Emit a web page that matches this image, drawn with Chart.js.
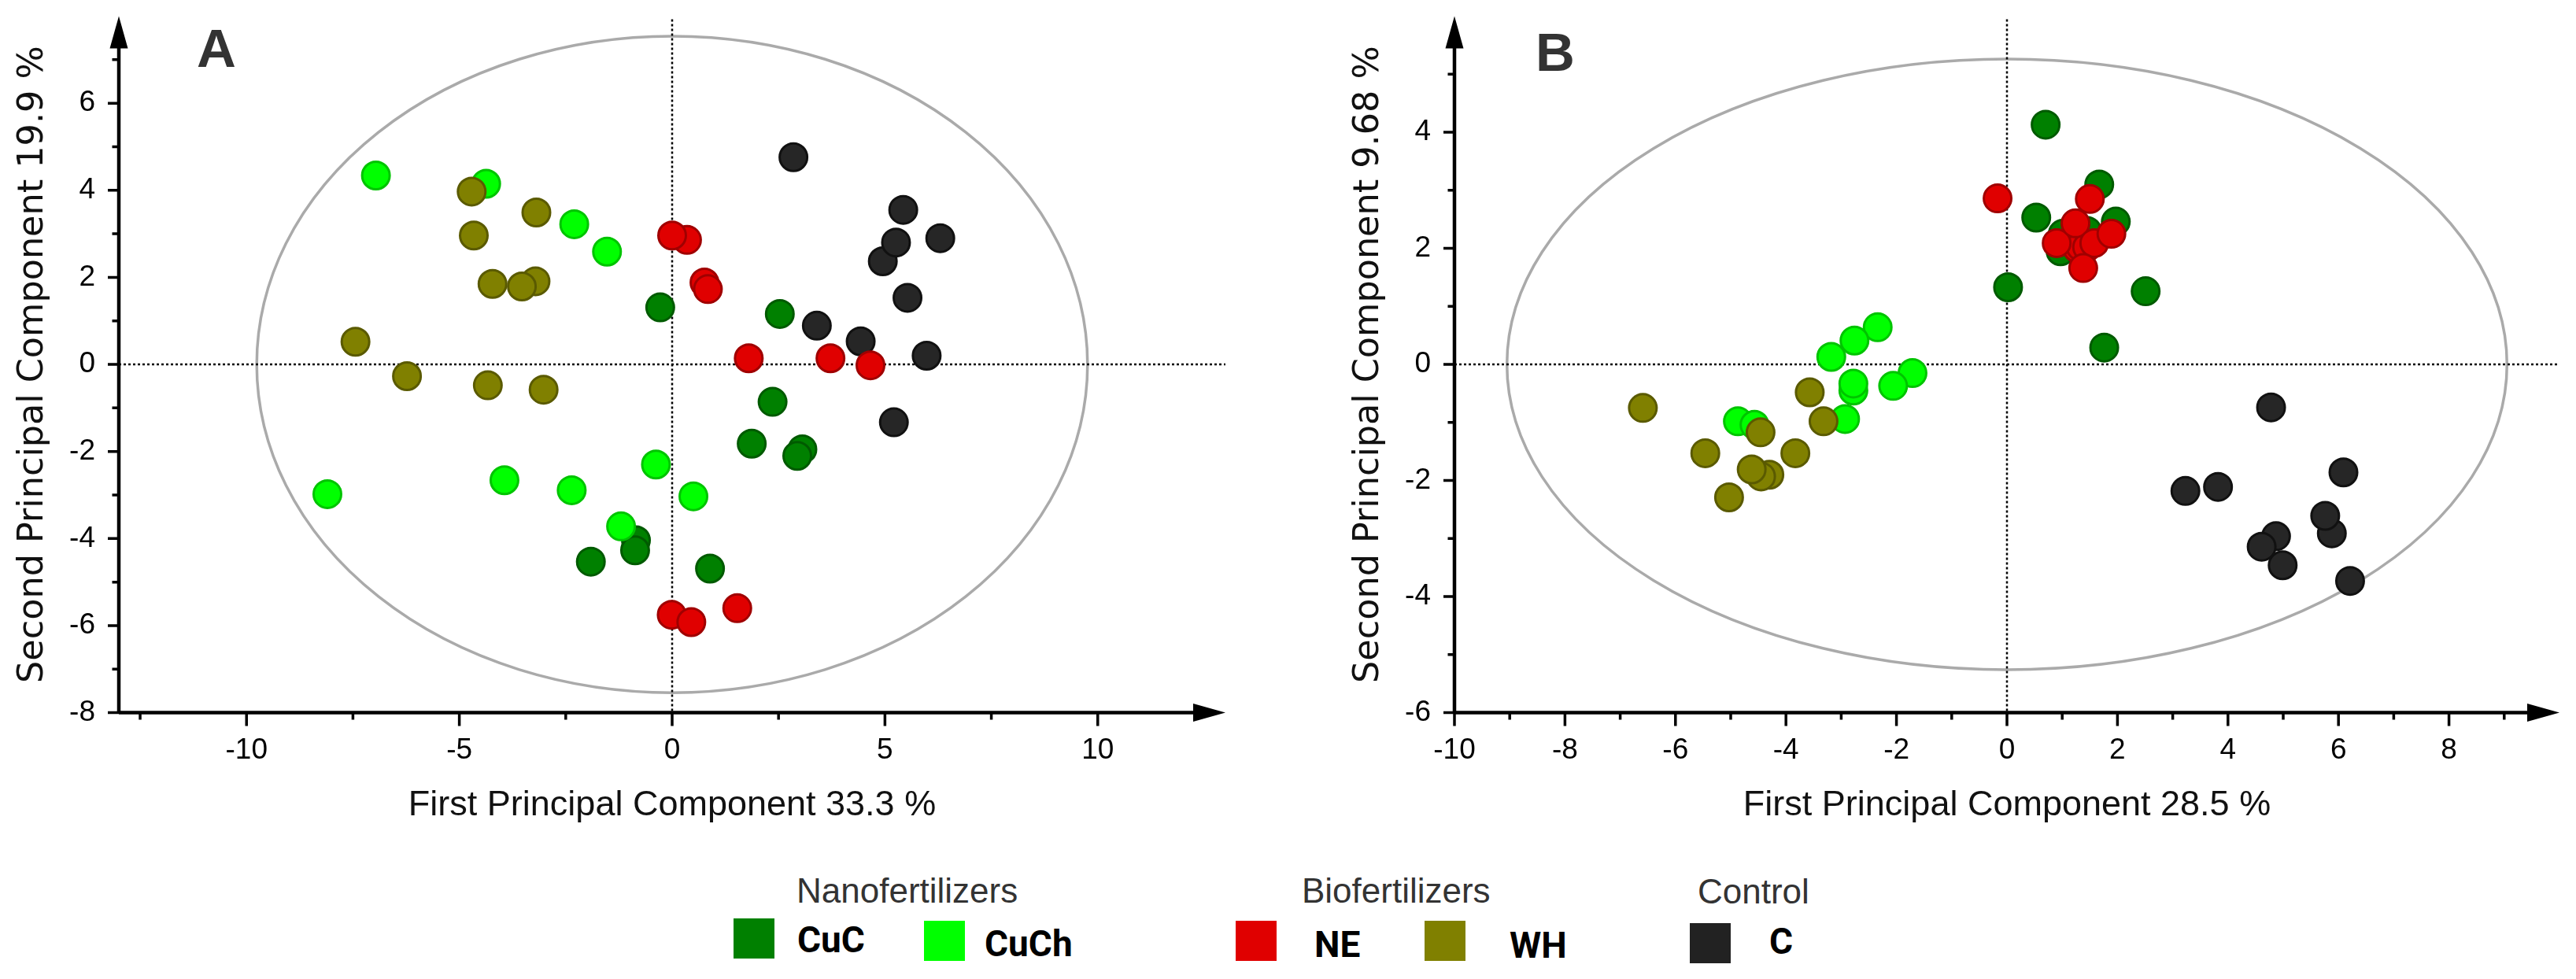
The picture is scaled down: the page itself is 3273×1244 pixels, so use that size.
<!DOCTYPE html>
<html>
<head>
<meta charset="utf-8">
<script src="https://cdn.jsdelivr.net/npm/chart.js@4.4.1/dist/chart.umd.min.js"></script>
<style>
  html, body { margin: 0; padding: 0; background: #fff; }
  body { width: 3273px; height: 1244px; position: relative; overflow: hidden; }
  canvas { position: absolute; top: 0; }
  #chartA { left: 0; }
  #chartB { left: 1697px; }
  .panel { position: absolute; font: bold 69px "Liberation Sans", Arial, sans-serif; line-height: 69px; color: #333; }
  .grp { position: absolute; font: 44px "Liberation Sans", Arial, sans-serif; line-height: 44px; color: #333; white-space: nowrap; }
  .sw { position: absolute; width: 52px; height: 51px; }
  .lab { position: absolute; font: bold 46px Roboto, sans-serif; line-height: 46px; color: #000; white-space: nowrap; }
</style>
</head>
<body>
<canvas id="chartA" width="1597" height="1060"></canvas>
<canvas id="chartB" width="1576" height="1060"></canvas>

<div class="panel" style="left:250px;top:27px">A</div>
<div class="panel" style="left:1951px;top:32px">B</div>

<!-- legend -->
<div class="grp" style="left:1012px;top:1110px">Nanofertilizers</div>
<div class="grp" style="left:1654px;top:1110px">Biofertilizers</div>
<div class="grp" style="left:2157px;top:1111px">Control</div>
<div class="sw" style="left:932px;top:1167px;background:#008000"></div>
<div class="lab" style="left:1013px;top:1171px">CuC</div>
<div class="sw" style="left:1174px;top:1170px;background:#00ff00"></div>
<div class="lab" style="left:1251px;top:1176px">CuCh</div>
<div class="sw" style="left:1570px;top:1170px;background:#e00000"></div>
<div class="lab" style="left:1670px;top:1177px">NE</div>
<div class="sw" style="left:1810px;top:1170px;background:#808000"></div>
<div class="lab" style="left:1918px;top:1178px">WH</div>
<div class="sw" style="left:2147px;top:1173px;background:#222222"></div>
<div class="lab" style="left:2248px;top:1173px">C</div>

<script>
// scores, one x/y pair per treatment
const groups = ['CuC', 'CuCh', 'NE', 'WH', 'C'];
const fills = ['#008000', '#00ff00', '#e00000', '#808000', '#262626'];
const borders = ['#005a00', '#00c400', '#a00000', '#5a5a00', '#111111'];
const drawOrder = [5, 4, 2, 1, 3]; // higher = drawn first

// panel A
const aCuCx  = [-0.28, 2.53, 2.36, 1.87, 3.06, 2.94, -0.85, -0.87, 0.89, -1.91];
const aCuCy  = [1.31, 1.16, -0.86, -1.82, -1.95, -2.10, -4.04, -4.27, -4.69, -4.53];
const aCuChx = [-6.96, -4.37, -2.30, -1.53, -0.38, 0.50, -8.10, -3.94, -2.36, -1.20];
const aCuChy = [4.34, 4.15, 3.22, 2.59, -2.30, -3.03, -2.98, -2.66, -2.89, -3.72];
const aNEx   = [0.35, 0.00, 0.76, 0.84, 1.80, 3.72, 4.66, -0.01, 0.45, 1.53];
const aNEy   = [2.86, 2.96, 1.88, 1.73, 0.14, 0.14, -0.02, -5.75, -5.92, -5.60];
const aWHx   = [-4.71, -3.19, -4.66, -3.21, -4.22, -3.53, -7.44, -6.23, -4.33, -3.02];
const aWHy   = [3.97, 3.49, 2.96, 1.91, 1.85, 1.79, 0.52, -0.27, -0.48, -0.58];
const aCx    = [2.85, 5.43, 6.30, 4.95, 5.26, 5.53, 3.40, 4.43, 5.98, 5.21];
const aCy    = [4.76, 3.55, 2.90, 2.37, 2.80, 1.53, 0.89, 0.53, 0.20, -1.33];

// panel B
const bCuCx  = [0.70, 1.67, 0.53, 1.97, 1.01, 1.45, 0.97, 0.02, 2.51, 1.76];
const bCuCy  = [4.13, 3.10, 2.53, 2.46, 2.25, 2.30, 1.95, 1.33, 1.26, 0.29];
const bCuChx = [-2.34, -2.76, -3.18, -1.71, -2.06, -2.78, -2.78, -4.87, -4.57, -2.93];
const bCuChy = [0.64, 0.41, 0.13, -0.15, -0.37, -0.45, -0.33, -0.98, -1.04, -0.94];
const bNEx   = [1.27, 1.33, 1.45, 0.90, 1.24, 1.58, 1.89, 1.38, 1.50, -0.17];
const bNEy   = [2.00, 2.03, 2.02, 2.09, 2.43, 2.09, 2.25, 1.66, 2.85, 2.86];
const bWHx   = [-6.59, -3.57, -4.46, -3.32, -5.46, -3.83, -4.30, -4.45, -4.62, -5.03];
const bWHy   = [-0.75, -0.48, -1.17, -0.98, -1.53, -1.53, -1.90, -1.93, -1.81, -2.29];
const bCx    = [4.78, 6.09, 3.23, 3.82, 5.88, 5.76, 4.87, 4.99, 4.61, 6.21];
const bCy    = [-0.74, -1.86, -2.18, -2.11, -2.91, -2.61, -2.96, -3.46, -3.14, -3.73];

// axes
const aXTicks = [-10, -5, 0, 5, 10];
const aXMinor = [-12.5, -7.5, -2.5, 2.5, 7.5];
const aYTicks = [-8, -6, -4, -2, 0, 2, 4, 6];
const aYMinor = [-7, -5, -3, -1, 1, 3, 5, 7];
const aEllipse = [9.76, 7.54];

const bXTicks = [-10, -8, -6, -4, -2, 0, 2, 4, 6, 8];
const bXMinor = [-9, -7, -5, -3, -1, 1, 3, 5, 7, 9];
const bYTicks = [-6, -4, -2, 0, 2, 4];
const bYMinor = [-5, -3, -1, 1, 3, 5];
const bEllipse = [9.05, 5.26];

// axis lines with arrows, minor/major ticks, zero lines and the ellipse
const pcaAxes = {
  id: 'pcaAxes',
  beforeDatasetsDraw(chart, args, o) {
    const { ctx, chartArea: a, scales: { x, y } } = chart;
    const x0 = x.getPixelForValue(0), y0 = y.getPixelForValue(0);
    ctx.save();
    ctx.strokeStyle = '#aaaaaa';
    ctx.lineWidth = 3.5;
    ctx.beginPath();
    ctx.ellipse(x0, y0, x.getPixelForValue(o.ellipse[0]) - x0, y0 - y.getPixelForValue(o.ellipse[1]), 0, 0, Math.PI * 2);
    ctx.stroke();

    ctx.strokeStyle = '#000';
    ctx.lineWidth = 2.5;
    ctx.setLineDash([3, 3]);
    ctx.beginPath();
    ctx.moveTo(x0, a.top + 4); ctx.lineTo(x0, a.bottom);
    ctx.moveTo(a.left, y0); ctx.lineTo(a.right, y0);
    ctx.stroke();
    ctx.restore();
  },
  afterDraw(chart, args, o) {
    const { ctx, chartArea: a, scales: { x, y } } = chart;
    ctx.save();
    ctx.strokeStyle = '#000';
    ctx.fillStyle = '#000';
    ctx.lineWidth = 4.5;
    ctx.beginPath();
    ctx.moveTo(a.left, a.bottom); ctx.lineTo(a.right - 30, a.bottom);
    ctx.moveTo(a.left, a.bottom); ctx.lineTo(a.left, a.top + 30);
    ctx.stroke();

    ctx.beginPath();
    ctx.moveTo(a.right, a.bottom);
    ctx.lineTo(a.right - 41, a.bottom - 11.5);
    ctx.lineTo(a.right - 41, a.bottom + 11.5);
    ctx.closePath();
    ctx.moveTo(a.left, a.top);
    ctx.lineTo(a.left - 11.5, a.top + 41);
    ctx.lineTo(a.left + 11.5, a.top + 41);
    ctx.closePath();
    ctx.fill();

    ctx.lineWidth = 3.5;
    ctx.beginPath();
    const tx = (v, len) => { const p = x.getPixelForValue(v); ctx.moveTo(p, a.bottom); ctx.lineTo(p, a.bottom + len); };
    const ty = (v, len) => { const p = y.getPixelForValue(v); ctx.moveTo(a.left, p); ctx.lineTo(a.left - len, p); };
    o.xMajor.forEach(v => tx(v, 17));
    o.xMinor.forEach(v => tx(v, 9));
    o.yMajor.forEach(v => ty(v, 14));
    o.yMinor.forEach(v => ty(v, 8.5));
    ctx.stroke();
    ctx.restore();
  }
};

function makeDatasets(xs, ys) {
  return groups.map((g, i) => ({
    label: g,
    data: xs[i].map((v, j) => ({ x: v, y: ys[i][j] })),
    backgroundColor: fills[i],
    borderColor: borders[i],
    borderWidth: 3,
    pointRadius: 17.5,
    pointHoverRadius: 17.5,
    order: drawOrder[i]
  }));
}

function makeChart(id, xs, ys, cfg) {
  return new Chart(document.getElementById(id), {
    type: 'scatter',
    data: { datasets: makeDatasets(xs, ys) },
    plugins: [pcaAxes],
    options: {
      responsive: false,
      animation: false,
      devicePixelRatio: 1,
      events: [],
      layout: { padding: { left: 0, top: 15, right: cfg.padRight, bottom: 0 } },
      plugins: {
        legend: { display: false },
        tooltip: { enabled: false },
        pcaAxes: { ellipse: cfg.ellipse, xMajor: cfg.xTicks, xMinor: cfg.xMinor, yMajor: cfg.yTicks, yMinor: cfg.yMinor }
      },
      scales: {
        x: {
          type: 'linear', position: 'bottom', min: cfg.xRange[0], max: cfg.xRange[1],
          grid: { display: false, drawTicks: false },
          border: { display: false },
          afterBuildTicks: s => { s.ticks = cfg.xTicks.map(v => ({ value: v })); },
          afterFit: s => { s.height = 154.4; s.paddingLeft = 0; s.paddingRight = 0; },
          ticks: {
            color: '#000', padding: 26, autoSkip: false, maxRotation: 0,
            font: { family: 'Liberation Sans', size: 37 },
            callback: v => String(v)
          },
          title: {
            display: true, text: cfg.xTitle, color: '#111',
            font: { family: 'Liberation Sans', size: 45 },
            padding: { top: 0, bottom: 9 }
          }
        },
        y: {
          type: 'linear', position: 'left', min: cfg.yRange[0], max: cfg.yRange[1],
          grid: { display: false, drawTicks: false },
          border: { display: false },
          afterBuildTicks: s => { s.ticks = cfg.yTicks.map(v => ({ value: v })); },
          afterFit: s => { s.width = 151; s.paddingTop = 0; s.paddingBottom = 0; },
          ticks: {
            color: '#000', padding: 30, autoSkip: false,
            font: { family: 'Liberation Sans', size: 37 },
            callback: v => String(v)
          },
          title: {
            display: true, text: cfg.yTitle, color: '#111',
            font: { family: 'DejaVu Sans', size: 44.5 },
            padding: { top: 16, bottom: 0 }
          }
        }
      }
    }
  });
}

makeChart('chartA',
  [aCuCx, aCuChx, aNEx, aWHx, aCx],
  [aCuCy, aCuChy, aNEy, aWHy, aCy],
  {
    xRange: [-13, 13], yRange: [-8, 8], padRight: 40,
    xTicks: aXTicks, xMinor: aXMinor, yTicks: aYTicks, yMinor: aYMinor, ellipse: aEllipse,
    xTitle: 'First Principal Component 33.3 %', yTitle: 'Second Principal Component 19.9 %'
  });

makeChart('chartB',
  [bCuCx, bCuChx, bNEx, bWHx, bCx],
  [bCuCy, bCuChy, bNEy, bWHy, bCy],
  {
    xRange: [-10, 10], yRange: [-6, 6], padRight: 21,
    xTicks: bXTicks, xMinor: bXMinor, yTicks: bYTicks, yMinor: bYMinor, ellipse: bEllipse,
    xTitle: 'First Principal Component 28.5 %', yTitle: 'Second Principal Component 9.68 %'
  });
</script>
</body>
</html>
